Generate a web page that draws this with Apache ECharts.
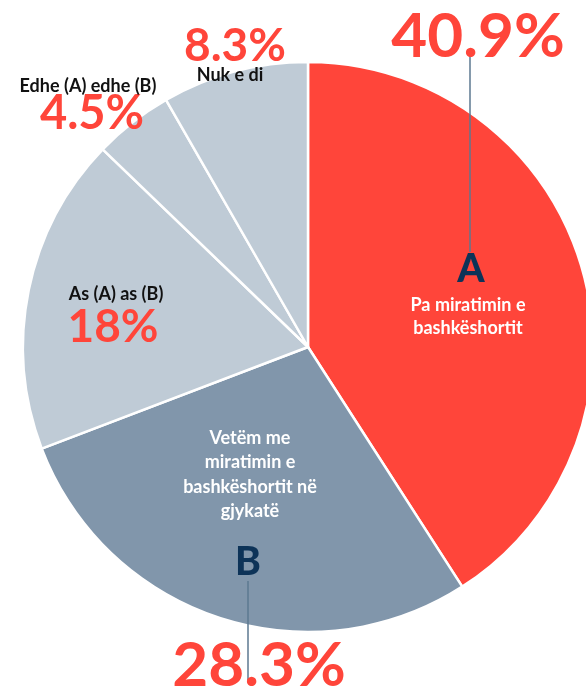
<!DOCTYPE html>
<html>
<head>
<meta charset="utf-8">
<script src="https://cdn.jsdelivr.net/npm/echarts@6/dist/echarts.min.js"></script>
<style>
  html, body { margin: 0; padding: 0; background: #fff; }
  #chart { width: 586px; height: 691px; }
</style>
</head>
<body>
<div id="chart"></div>
<script>
// slices, clockwise from the top
var categories = ['Pa miratimin e bashkëshortit', 'Vetëm me miratimin e bashkëshortit në gjykatë', 'As (A) as (B)', 'Edhe (A) edhe (B)', 'Nuk e di'];
var values = [40.9, 28.3, 18, 4.5, 8.3];
var shortLabels = ['A', 'B', 'As (A) as (B)', 'Edhe (A) edhe (B)', 'Nuk e di'];
var descA = ['Pa miratimin e', 'bashkëshortit'];
var descB = ['Vetëm me', 'miratimin e', 'bashkëshortit në', 'gjykatë'];

var palette = ['#ff453a', '#8196ab', '#bfcbd6', '#bfcbd6', '#bfcbd6'];
var RED = '#ff453a', NAVY = '#0d3358', LINE = '#5d7891';
var FONT = 'Lato, "Noto Sans", sans-serif';

function pct(v) { return v + '%'; }

function txt(s, x, y, size, color, weight) {
    return {
        type: 'text', x: x, y: y, z: 10,
        style: {
            text: s, fill: color, font: (weight || 'bold') + ' ' + size + 'px ' + FONT,
            textAlign: 'center', textVerticalAlign: 'middle'
        }
    };
}

var chart = echarts.init(document.getElementById('chart'));

var graphics = [
    // leader lines
    { type: 'line', z: 9, shape: { x1: 470, y1: 56, x2: 470, y2: 252 }, style: { stroke: LINE, lineWidth: 1.5 } },
    { type: 'line', z: 9, shape: { x1: 248, y1: 581, x2: 248, y2: 680 }, style: { stroke: LINE, lineWidth: 1.5 } },
    // big percentages
    txt(pct(values[0]), 478, 37, 62, RED),
    txt(pct(values[1]), 259, 666, 62, RED),
    txt(pct(values[2]), 113, 327, 46, RED),
    txt(pct(values[3]), 92, 114, 47, RED),
    txt(pct(values[4]), 235, 46, 46, RED),
    // category names
    txt(shortLabels[2], 116, 294, 18, '#111'),
    txt(shortLabels[3], 88, 86, 18, '#111'),
    txt(shortLabels[4], 230, 75, 18, '#111'),
    txt(shortLabels[0], 471, 269, 39, NAVY, '900'),
    txt(shortLabels[1], 248, 562, 39, NAVY, '900')
];
descA.forEach(function (s, i) { graphics.push(txt(s, 468, 305 + i * 23, 18, '#fff')); });
descB.forEach(function (s, i) { graphics.push(txt(s, 250, 438 + i * 24.5, 18, '#fff')); });

chart.setOption({
    animation: false,
    color: palette,
    series: [{
        type: 'pie',
        center: [308, 347],
        radius: 285,
        startAngle: 90,
        clockwise: true,
        label: { show: false },
        labelLine: { show: false },
        emphasis: { disabled: true },
        itemStyle: { borderColor: '#fff', borderWidth: 2.5 },
        data: categories.map(function (c, i) { return { name: c, value: values[i] }; })
    }],
    graphic: graphics
});
</script>
</body>
</html>
